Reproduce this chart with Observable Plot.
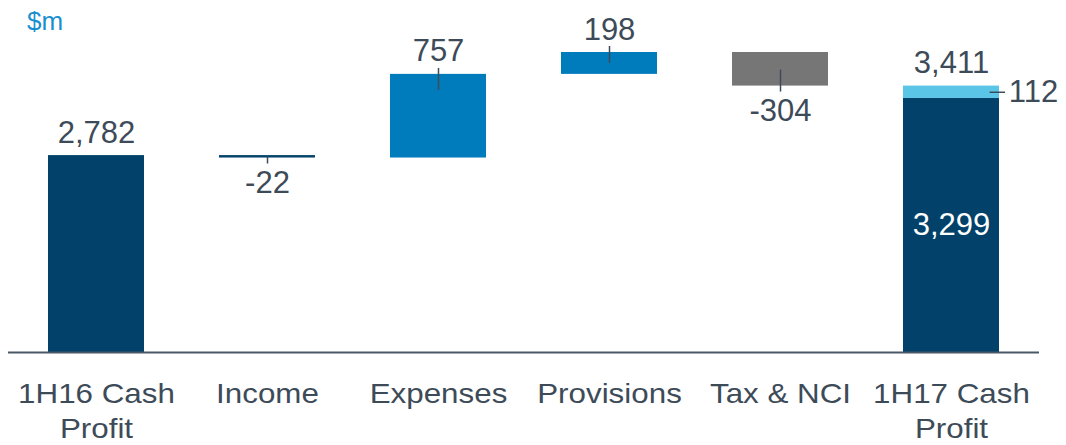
<!DOCTYPE html>
<html><head><meta charset="utf-8">
<script src="https://cdn.jsdelivr.net/npm/d3@7"></script>
<script src="https://cdn.jsdelivr.net/npm/@observablehq/plot@0.6"></script>
<style>
html,body{margin:0;padding:0;background:#fff;}
#wrap{position:relative;width:1066px;height:445px;overflow:hidden;}
#unit{position:absolute;left:27px;top:6px;font:26px "Liberation Sans",Arial,sans-serif;color:#1a8fd0;}
</style></head><body>
<div id="wrap"><div id="unit">$m</div></div>
<script>
// ---- data ----
const categories = ["1H16 Cash\nProfit", "Income", "Expenses", "Provisions", "Tax & NCI", "1H17 Cash\nProfit"];
const startValue = 2782;
const changeValues = [-22, 757, 198, -304];
const endParts = [3299, 112];
const axisMin = 1000;

// ---- styles ----
const navy = "#01416a", blue = "#007bbb", gray = "#767676", light = "#5bc5e8", ink = "#3d4b59";
const changeFills = [navy, blue, blue, gray];

// ---- layout ----
const W = 1066, H = 445, mT = 52, mB = 93, mL = 8, mR = 27;
const padIn = 0.437, padOut = 0.2225;
const step = (W - mL - mR) / (categories.length - padIn + 2 * padOut);
const bw = step * (1 - padIn);

// ---- derived rows ----
const fmt = v => (v < 0 ? "-" : "") + d3.format(",")(Math.abs(v));
const bars = [];
const labels = [];
bars.push({cat: categories[0], y1: axisMin, y2: startValue, fill: navy});
labels.push({cat: categories[0], y: startValue, text: fmt(startValue), pos: "above"});
let run = startValue;
const changes = [];
changeValues.forEach((d, i) => {
  const from = run, to = run + d;
  run = to;
  const c = {cat: categories[i + 1], y1: from, y2: to, fill: changeFills[i], delta: d};
  bars.push(c); changes.push(c);
  labels.push({cat: c.cat, y: to, text: fmt(d), pos: d >= 0 ? "above" : "below"});
});
const endCat = categories[categories.length - 1];
const endTotal = endParts[0] + endParts[1];
bars.push({cat: endCat, y1: axisMin, y2: endParts[0], fill: navy});
bars.push({cat: endCat, y1: endParts[0], y2: endTotal, fill: light});
labels.push({cat: endCat, y: endTotal, text: fmt(endTotal), pos: "above"});
const yMax = d3.max(bars, d => Math.max(d.y1, d.y2));
const k = (H - mB - mT) / (yMax - axisMin);

const above = labels.filter(d => d.pos === "above");
const below = labels.filter(d => d.pos === "below");

// leaders
const leaderMarks = changes.map(c => {
  const inner = Math.min(16, Math.abs(c.delta) * k / 2), outer = 6;
  const pos = c.delta >= 0;
  return Plot.ruleX([c], {x: "cat", y1: "y2", y2: "y2", stroke: ink, strokeWidth: 1.5,
    insetTop: pos ? -outer : -inner, insetBottom: pos ? -inner : -outer});
});

const chart = Plot.plot({
  width: W, height: H,
  marginTop: mT, marginBottom: mB, marginLeft: mL, marginRight: mR,
  style: {fontFamily: "'Liberation Sans', Arial, sans-serif", background: "#fff"},
  x: {domain: categories, paddingInner: padIn, paddingOuter: padOut, label: null, axis: null},
  y: {domain: [axisMin, yMax], axis: null},
  marks: [
    Plot.barY(bars, {x: "cat", y1: "y1", y2: "y2", fill: d => d.fill}),
    Plot.ruleY([axisMin], {stroke: "#4a5866", strokeWidth: 2}),
    ...leaderMarks,
    Plot.tickY([{cat: endCat, y: (endParts[0] + endTotal) / 2}], {x: "cat", y: "y", stroke: ink, strokeWidth: 1.5, insetLeft: bw - 10, insetRight: -6}),
    Plot.text(above, {x: "cat", y: "y", text: "text", lineAnchor: "bottom", dy: -13, fontSize: 31, fill: ink}),
    Plot.text(below, {x: "cat", y: "y", text: "text", lineAnchor: "top", dy: 13, fontSize: 31, fill: ink}),
    Plot.text([{cat: endCat, y: (axisMin + endParts[0]) / 2, t: fmt(endParts[0])}], {x: "cat", y: "y", text: "t", lineAnchor: "middle", fontSize: 31, fill: "#fff"}),
    Plot.text([{cat: endCat, y: (endParts[0] + endTotal) / 2, t: fmt(endParts[1])}], {x: "cat", y: "y", text: "t", lineAnchor: "middle", textAnchor: "start", dx: bw / 2 + 9, fontSize: 31, fill: ink}),
    Plot.text(categories, {x: d => d, text: d => d, frameAnchor: "bottom", lineAnchor: "top", dy: 26, fontSize: 28, lineHeight: 1.24, fill: ink})
  ]
});
document.getElementById("wrap").prepend(chart);

// widen the category labels horizontally like the reference
const catSet = new Set(categories.map(c => c.replace("\n", "")));
d3.select(chart).selectAll("text").filter(function() { return catSet.has(this.textContent); }).each(function() {
  const t = this.getAttribute("transform") || "";
  this.setAttribute("transform", `${t} scale(1.12,1)`);
});
</script>
</body></html>
